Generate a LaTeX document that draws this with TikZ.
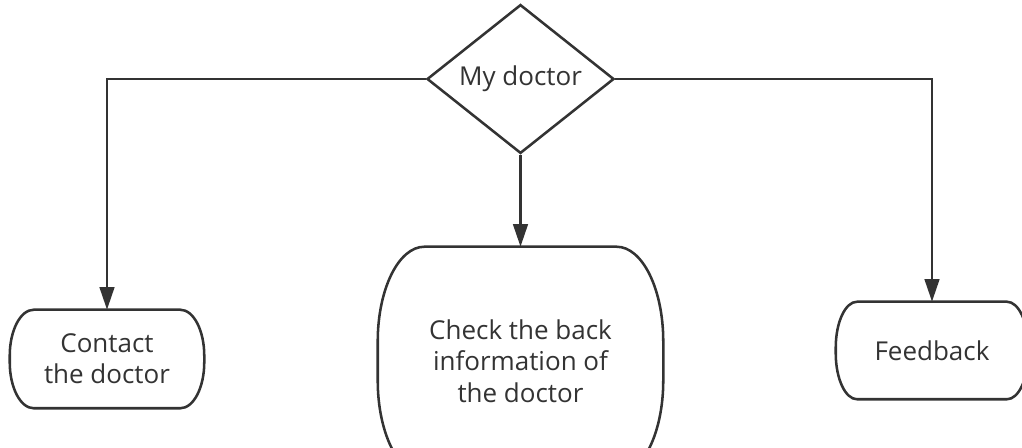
\documentclass[tikz,border=0pt]{standalone}
\usepackage{fontspec}
\setmainfont{Open Sans}
\usetikzlibrary{shapes.geometric,arrows.meta}
\definecolor{ink}{HTML}{333333}
\newcommand\ovalpath[3]{%
  \draw[boxline] ([xshift=#2]#1.north west) -- ([xshift=-#2]#1.north east)
    arc[start angle=90,end angle=0,x radius=#2,y radius=#3]
    -- ([yshift=#3]#1.south east)
    arc[start angle=0,end angle=-90,x radius=#2,y radius=#3]
    -- ([xshift=#2]#1.south west)
    arc[start angle=270,end angle=180,x radius=#2,y radius=#3]
    -- ([yshift=-#3]#1.north west)
    arc[start angle=180,end angle=90,x radius=#2,y radius=#3] -- cycle;}
\begin{document}
\begin{tikzpicture}[x=0.75pt,y=0.75pt,
  lbl/.style={text=ink, font=\fontsize{19.5}{23.5}\selectfont, align=center, inner sep=0pt},
  boxline/.style={draw=ink, line width=1.9pt},
  conn/.style={draw=ink, line width=1.9pt, -{Triangle[length=17pt,width=11pt]}}]
\useasboundingbox (0,0) rectangle (1022,-448);
\clip (0,0) rectangle (1022,-448);
\node[lbl, shape=diamond, boxline, minimum width=140.25pt, minimum height=103.5pt] (doc) at (520.5,-79) {My doctor};
\node[lbl, minimum width=145.5pt, minimum height=73.5pt] (contact) at (107,-359) {Contact\\the doctor};
\node[lbl, minimum width=213.75pt, minimum height=171pt] (check) at (520.5,-361) {Check the back\\information of\\the doctor};
\node[lbl, minimum width=144pt, minimum height=72.75pt] (feed) at (932,-350.5) {Feedback};
\ovalpath{contact}{18pt}{34.5pt}
\ovalpath{check}{35pt}{71pt}
\ovalpath{feed}{16pt}{34.5pt}
\draw[conn] (doc.west) -| (contact.north);
\draw[conn] (doc.south) -- (check.north);
\draw[conn] (doc.east) -| (feed.north);
\end{tikzpicture}
\end{document}
